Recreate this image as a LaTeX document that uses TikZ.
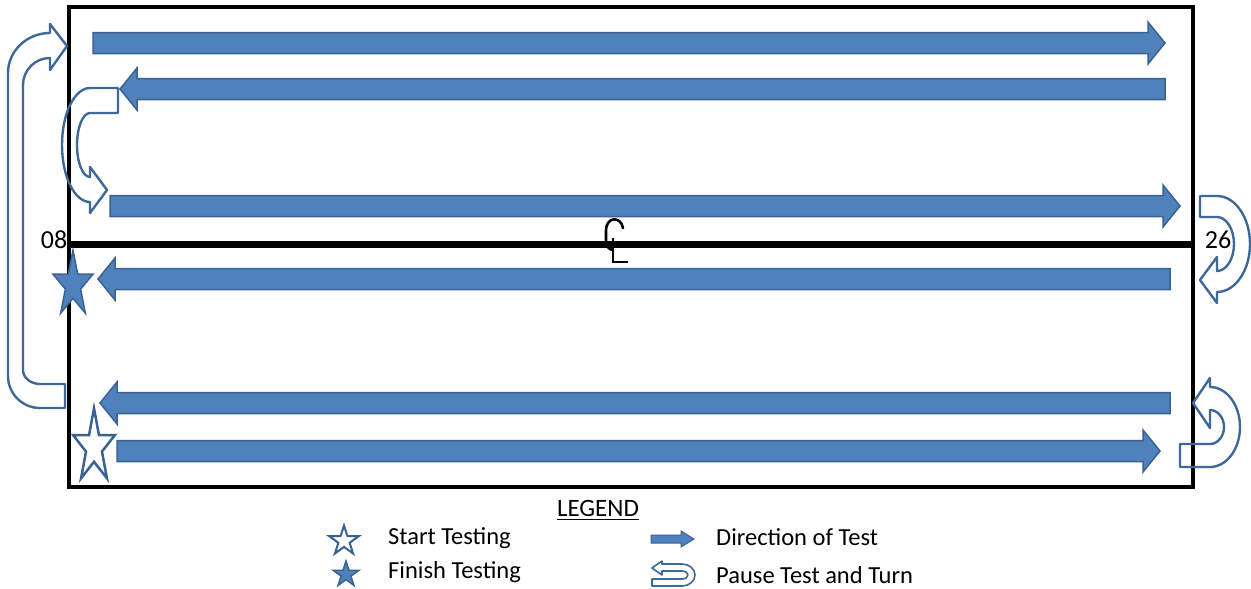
\documentclass[tikz,border=0pt]{standalone}
\usepackage{fontspec}
\setmainfont{Carlito}
\definecolor{arrfill}{RGB}{79,129,189}
\definecolor{arredge}{RGB}{58,98,146}
\definecolor{turnedge}{RGB}{62,104,152}
\newcommand\rightblock[3]{\draw[blockarrow] (#1,{#3-10.5}) -- ({#2-17},{#3-10.5}) -- ({#2-17},{#3-21}) -- (#2,#3) -- ({#2-17},{#3+21}) -- ({#2-17},{#3+10.5}) -- (#1,{#3+10.5}) -- cycle;}
\newcommand\leftblock[3]{\draw[blockarrow] (#1,#3) -- ({#1+17},{#3-21}) -- ({#1+17},{#3-10.5}) -- (#2,{#3-10.5}) -- (#2,{#3+10.5}) -- ({#1+17},{#3+10.5}) -- ({#1+17},{#3+21}) -- cycle;}
\newcommand\starshape[5]{\draw[#5,shift={(#1,#2)},yscale=#4] (-90:#3) -- (-54:{0.382*#3}) -- (-18:#3) -- (18:{0.382*#3}) -- (54:#3) -- (90:{0.382*#3}) -- (126:#3) -- (162:{0.382*#3}) -- (198:#3) -- (234:{0.382*#3}) -- cycle;}
\begin{document}
\begin{tikzpicture}[x=1pt,y=-1pt,
  blockarrow/.style={fill=arrfill, draw=arredge, line width=1.5, line join=miter},
  turnarrow/.style={draw=turnedge, line width=2.4, line join=round},
  fullstar/.style={fill=arrfill, draw=arredge, line width=1.5},
  openstar/.style={fill=white, draw=arredge, line width=2.5, line join=miter},
  lbl/.style={font=\fontsize{24.5}{28}\selectfont, anchor=west, inner sep=0},
  rwy/.style={font=\fontsize{26}{30}\selectfont, inner sep=0}]
\useasboundingbox (0,0) rectangle (1251,589);
% runway outline and centre line
\draw[line width=3.4] (69,7) rectangle (1193,487);
\draw[line width=7] (69,244) -- (1193,244);
% centre line symbol
\draw[line width=2.6, line cap=round] (623,228) .. controls (621,216) and (606,216) .. (606,231) -- (606,240) .. controls (606,247) and (610,250) .. (613,250);
\draw[line width=2.6] (613,238) -- (613,262) -- (628,262);
% test direction arrows
\rightblock{93}{1165}{43}
\leftblock{120}{1165}{89}
\rightblock{110}{1180}{206}
\leftblock{98}{1170}{279}
\leftblock{100}{1170}{403}
\rightblock{117}{1160}{451}
% pause and turn arrows
\draw[turnarrow] (65,408) -- (40,408) arc[start angle=90,end angle=180,x radius=32,y radius=32] -- (8,73) arc[start angle=180,end angle=270,x radius=42,y radius=40] -- (50,24) -- (67,46) -- (50,70) -- (50,58) arc[start angle=270,end angle=180,x radius=27,y radius=27] -- (23,370) arc[start angle=180,end angle=90,x radius=17,y radius=14] -- (65,384) -- cycle;
\draw[turnarrow] (118,88) -- (90,88) arc[start angle=-90,end angle=-270,x radius=28,y radius=57] -- (90,213) -- (107,190) -- (90,167) -- (90,177) arc[start angle=90,end angle=270,x radius=13,y radius=32] -- (118,113) -- cycle;
\draw[turnarrow] (1200,196) -- (1217,196) arc[start angle=-90,end angle=90,x radius=33,y radius=48] -- (1217,303) -- (1200,280) -- (1217,257) -- (1217,271) arc[start angle=90,end angle=-90,x radius=17,y radius=27] -- (1200,217) -- cycle;
\draw[turnarrow] (1180,444) -- (1210,444) arc[start angle=90,end angle=-90,x radius=14,y radius=17] -- (1210,428) -- (1193,403) -- (1210,378) -- (1210,387) arc[start angle=-90,end angle=90,x radius=30,y radius=40] -- (1180,467) -- cycle;
% stars
\starshape{73}{285}{21}{1.66}{fullstar}
\starshape{94}{447}{22}{1.76}{openstar}
% runway labels
\node[rwy] (r08) at (54,240) {08};
\node[rwy] (r26) at (1218,240) {26};
% legend
\node[font=\fontsize{25}{28}\selectfont, inner sep=0] (leg) at (598,508) {LEGEND};
\draw[line width=1.2] ([yshift=-3pt]leg.south west) -- ([yshift=-3pt]leg.south east);
\starshape{344}{541}{15.5}{1}{openstar, line width=2}
\starshape{346}{574.5}{13.5}{1}{fullstar}
\node[lbl] (t1) at (388,538) {Start Testing};
\node[lbl] (t2) at (388,572) {Finish Testing};
\draw[blockarrow, line width=1] (651,535) -- (681,535) -- (681,531) -- (694,539) -- (681,547) -- (681,543) -- (651,543) -- cycle;
\draw[turnarrow, line width=1.6] (652,579) -- (682,579) arc[start angle=90,end angle=-90,x radius=6,y radius=4] -- (662,571) -- (662,575) -- (652,568) -- (662,561) -- (662,564) -- (682,564) arc[start angle=-90,end angle=90,x radius=13,y radius=11] -- (652,586) -- cycle;
\node[lbl] (t3) at (716,537) {Direction of Test};
\node[lbl] (t4) at (716,575) {Pause Test and Turn};
\end{tikzpicture}
\end{document}
